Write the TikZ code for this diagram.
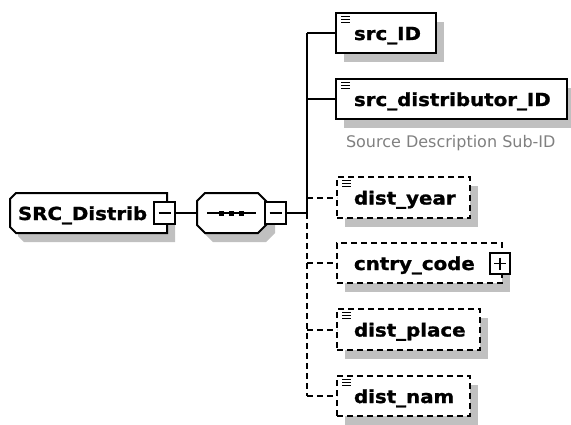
\documentclass[tikz,border=0pt]{standalone}
\usepackage{fontspec}
\setmainfont{DejaVu Sans}
\newfontfamily\lblfont[BoldFeatures={FakeBold=1.2}]{DejaVu Sans}
\definecolor{shadowgray}{HTML}{C0C0C0}
\definecolor{descgray}{HTML}{808080}
\newcommand\xsdicon[1]{\foreach \yy in {3.5,6.5,9.5} \draw[icon] ([shift={(5,\yy)}]#1.north west) -- ++(9,0);}
\newcommand\wlbl[1]{\scalebox{1.1}[1]{#1}}
\begin{document}
\begin{tikzpicture}[x=1pt,y=-1pt,line width=2pt,
  box/.style={draw, fill=white, anchor=north west, inner sep=0pt, outer sep=0pt},
  solidbox/.style={box},
  optbox/.style={box, dash pattern=on 6pt off 4pt},
  ghost/.style={anchor=north west, inner sep=0pt, outer sep=0pt},
  lbl/.style={anchor=base west, inner sep=0pt, font=\lblfont\bfseries\fontsize{18}{20}\selectfont},
  desc/.style={anchor=base west, inner sep=0pt, text=descgray, font=\fontsize{16}{18}\selectfont},
  conn/.style={line width=2pt},
  optconn/.style={conn, dash pattern=on 6pt off 4pt},
  icon/.style={line width=1.3pt, solid},
  pmbox/.style={draw, fill=white, inner sep=0pt, outer sep=0pt, line width=1.6pt, minimum width=21pt, minimum height=22pt},
  sign/.style={line width=1.6pt}]
\useasboundingbox (0,0) rectangle (571,424);

% ---------- root element SRC_Distrib ----------
\fill[shadowgray] (24,202) -- (175,202) -- (175,242) -- (24,242) -- (18,236) -- (18,208) -- cycle;
\draw[fill=white] (16,193) -- (167,193) -- (167,233) -- (16,233) -- (10,227) -- (10,199) -- cycle;
\node[ghost, minimum width=157pt, minimum height=40pt] (root) at (10,193) {};
\node[lbl] (rootlbl) at (17,220) {\wlbl{SRC\_Distrib}};
\node[pmbox] (m1) at (164.5,213) {};
\draw[sign] ([shift={(-6,0)}]m1.center) -- ([shift={(6,0)}]m1.center);

% ---------- sequence compositor ----------
\fill[shadowgray] (213,202) -- (266,202) -- (275,211) -- (275,233) -- (266,242) -- (213,242) -- (205,234) -- (205,210) -- cycle;
\draw[fill=white] (205,193) -- (258,193) -- (267,202) -- (267,224) -- (258,233) -- (205,233) -- (197,225) -- (197,201) -- cycle;
\node[ghost, minimum width=70pt, minimum height=40pt] (seq) at (197,193) {};
\draw[line width=1.6pt] (207,213) -- (256,213);
\fill (218.5,210.5) rectangle ++(5,5);
\fill (228.5,210.5) rectangle ++(5,5);
\fill (238.5,210.5) rectangle ++(5,5);
\node[pmbox] (m2) at (275.5,213) {};
\draw[sign] ([shift={(-6,0)}]m2.center) -- ([shift={(6,0)}]m2.center);

\coordinate (t0) at (307,213);
\draw[conn] (m1.east) -- (seq.west);
\draw[conn] (m2.east) -- (t0);

% ---------- child elements: shadows ----------
\fill[shadowgray] (344,22) rectangle ++(100,40);
\fill[shadowgray] (344,88) rectangle ++(231,40);
\fill[shadowgray] (345,186) rectangle ++(133,41);
\fill[shadowgray] (345,252) rectangle ++(165,40);
\fill[shadowgray] (345,318) rectangle ++(143,41);
\fill[shadowgray] (345,385) rectangle ++(133,40);

% ---------- child elements ----------
\node[solidbox, minimum width=100pt, minimum height=40pt] (e1) at (336,13) {};
\node[solidbox, minimum width=231pt, minimum height=40pt] (e2) at (336,79) {};
\node[optbox, minimum width=133pt, minimum height=41pt] (e3) at (337,177) {};
\node[optbox, minimum width=165pt, minimum height=40pt] (e4) at (337,243) {};
\node[optbox, minimum width=143pt, minimum height=41pt] (e5) at (337,309) {};
\node[optbox, minimum width=133pt, minimum height=40pt] (e6) at (337,376) {};

\xsdicon{e1}
\xsdicon{e2}
\xsdicon{e3}
\xsdicon{e5}
\xsdicon{e6}

\node[lbl] (l1) at ([shift={(17,7)}]e1.west) {\wlbl{src\_ID}};
\node[lbl] (l2) at ([shift={(17,7)}]e2.west) {\wlbl{src\_distributor\_ID}};
\node[lbl] (l3) at ([shift={(16,7)}]e3.west) {\wlbl{dist\_year}};
\node[lbl] (l4) at ([shift={(16,7)}]e4.west) {\wlbl{cntry\_code}};
\node[lbl] (l5) at ([shift={(16,7)}]e5.west) {\wlbl{dist\_place}};
\node[lbl] (l6) at ([shift={(16,7)}]e6.west) {\wlbl{dist\_nam}};

\node[desc] (d2) at (345,147) {Source Description Sub-ID};

\node[pmbox, minimum width=20pt, minimum height=21pt] (p4) at (500,263.5) {};
\draw[sign] ([shift={(-6,0)}]p4.center) -- ([shift={(6,0)}]p4.center);
\draw[sign] ([shift={(0,-6)}]p4.center) -- ([shift={(0,6)}]p4.center);

% ---------- trunk and connectors ----------
\draw[conn] (t0 |- e1.west) -- (t0);
\draw[optconn] (t0) -- (t0 |- e6.west);
\draw[conn] (t0 |- e1.west) -- (e1.west);
\draw[conn] (t0 |- e2.west) -- (e2.west);
\draw[optconn] (t0 |- e3.west) -- (e3.west);
\draw[optconn] (t0 |- e4.west) -- (e4.west);
\draw[optconn] (t0 |- e5.west) -- (e5.west);
\draw[optconn] (t0 |- e6.west) -- (e6.west);
\end{tikzpicture}
\end{document}
